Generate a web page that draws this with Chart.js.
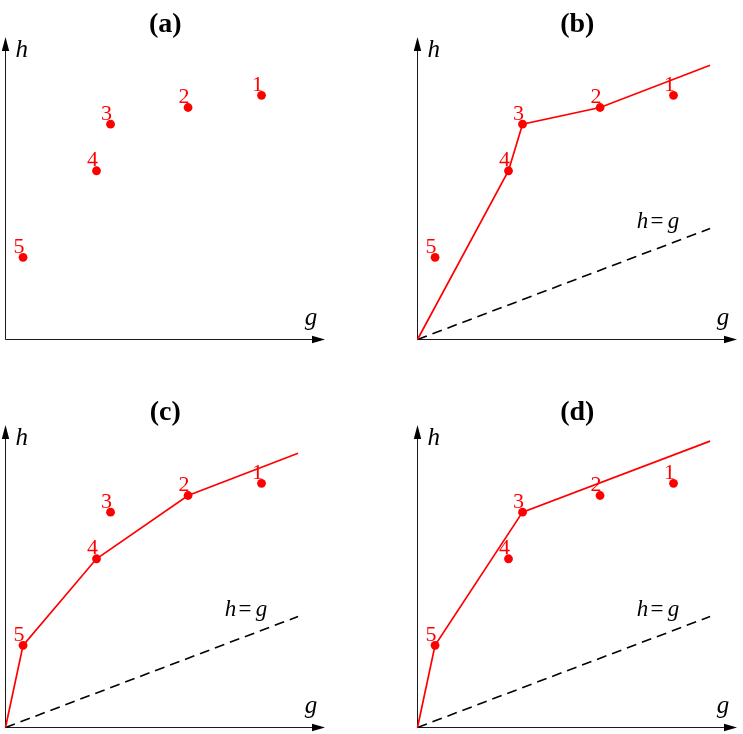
<!DOCTYPE html>
<html>
<head>
<meta charset="utf-8">
<script src="https://cdn.jsdelivr.net/npm/chart.js@4"></script>
<style>
  body { margin: 0; background: #fff; overflow: hidden; }
  canvas { position: absolute; }
</style>
</head>
<body>
<canvas id="pa" width="331" height="346" style="left:0;top:0"></canvas>
<canvas id="pb" width="331" height="346" style="left:412px;top:0"></canvas>
<canvas id="pc" width="331" height="346" style="left:0;top:388px"></canvas>
<canvas id="pd" width="331" height="346" style="left:412px;top:388px"></canvas>
<script>
// points 1..5 (g across, h up; h = g is the dashed line)
const pointNames = ['1', '2', '3', '4', '5'];
const gValues = [8.75, 6.24, 3.59, 3.11, 0.6];
const hValues = [22.0, 20.9, 19.4, 15.2, 7.4];

const panelIds = ['pa', 'pb', 'pc', 'pd'];
const panelTitles = ['(a)', '(b)', '(c)', '(d)'];
// which points the red line passes through, per panel
const hullPoints = [[], [4, 3, 2], [5, 4, 2], [5, 3]];
const hullEndG = 10;
const hullEndH = [null, 24.7, 24.7, 25.8];
const showDiagonal = [false, true, true, true];
const diagonalG = [0, 10];
const diagonalH = [0, 10];

const gMax = 10.92;
const hMax = 27.25;
const serif = '"Liberation Serif", "DejaVu Serif", serif';

const decor = {
  id: 'decor',
  beforeDatasetsDraw(chart) {
    const { ctx, chartArea: a, scales: { x, y } } = chart;
    const ox = x.getPixelForValue(0), oy = y.getPixelForValue(0);
    ctx.save();
    ctx.strokeStyle = '#1a1a1a';
    ctx.fillStyle = '#000';
    ctx.lineWidth = 1;
    ctx.beginPath();
    ctx.moveTo(ox, oy);
    ctx.lineTo(a.right - 10, oy);
    ctx.moveTo(ox, oy);
    ctx.lineTo(ox, a.top + 10);
    ctx.stroke();
    // arrow heads
    ctx.beginPath();
    ctx.moveTo(a.right, oy);
    ctx.lineTo(a.right - 13, oy - 3.7);
    ctx.lineTo(a.right - 13, oy + 3.7);
    ctx.closePath();
    ctx.fill();
    ctx.beginPath();
    ctx.moveTo(ox, a.top);
    ctx.lineTo(ox - 3.7, a.top + 14);
    ctx.lineTo(ox + 3.7, a.top + 14);
    ctx.closePath();
    ctx.fill();
    ctx.restore();
  },
  afterDatasetsDraw(chart) {
    const { ctx, chartArea: a, scales: { x, y } } = chart;
    const i = chart.options.plugins.decor.panel;
    const ox = x.getPixelForValue(0), oy = y.getPixelForValue(0);
    ctx.save();
    ctx.fillStyle = '#000';
    ctx.textBaseline = 'alphabetic';

    // title
    ctx.textAlign = 'center';
    ctx.font = 'bold 28px ' + serif;
    ctx.fillText(panelTitles[i], (a.left + a.right) / 2, a.top - 5);

    // axis names
    ctx.font = 'italic 25px ' + serif;
    ctx.textAlign = 'left';
    ctx.fillText('h', ox + 10, a.top + 19.5);
    ctx.textAlign = 'center';
    ctx.fillText('g', a.right - 14, oy - 15);

    // h = g label
    if (showDiagonal[i]) {
      const lx = x.getPixelForValue(8.27), ly = y.getPixelForValue(10);
      ctx.font = 'italic 23px ' + serif;
      ctx.fillText('h', lx - 17, ly);
      ctx.fillText('g', lx + 14, ly);
      ctx.font = '23px ' + serif;
      ctx.fillText('=', lx - 2.5, ly);
    }

    // point numbers
    ctx.fillStyle = 'red';
    ctx.font = '22px ' + serif;
    const meta = chart.getDatasetMeta(0);
    meta.data.forEach((p, k) => {
      ctx.fillText(pointNames[k], p.x - 4, p.y - 4.5);
    });
    ctx.restore();
  }
};

panelIds.forEach((id, i) => {
  const datasets = [{
    data: gValues.map((g, k) => ({ x: g, y: hValues[k] })),
    showLine: false,
    pointRadius: 4.4,
    pointBackgroundColor: 'red',
    pointBorderWidth: 0,
    clip: false
  }];
  if (hullPoints[i].length) {
    const pts = [{ x: 0, y: 0 }];
    hullPoints[i].forEach(n => pts.push({ x: gValues[n - 1], y: hValues[n - 1] }));
    pts.push({ x: hullEndG, y: hullEndH[i] });
    datasets.push({
      data: pts,
      showLine: true,
      borderColor: 'red',
      borderWidth: 1.7,
      pointRadius: 0,
      clip: false
    });
  }
  if (showDiagonal[i]) {
    datasets.push({
      data: diagonalG.map((g, k) => ({ x: g, y: diagonalH[k] })),
      showLine: true,
      borderColor: '#000',
      borderWidth: 1.6,
      borderDash: [10, 6],
      pointRadius: 0,
      clip: false
    });
  }

  new Chart(document.getElementById(id), {
    type: 'scatter',
    data: { datasets },
    options: {
      responsive: false,
      animation: false,
      layout: { padding: { left: 5.5, top: 37, right: 6, bottom: 6.5 } },
      scales: {
        x: { type: 'linear', min: 0, max: gMax, display: false },
        y: { type: 'linear', min: 0, max: hMax, display: false }
      },
      plugins: {
        legend: { display: false },
        tooltip: { enabled: false },
        decor: { panel: i }
      }
    },
    plugins: [decor]
  });
});
</script>
</body>
</html>
